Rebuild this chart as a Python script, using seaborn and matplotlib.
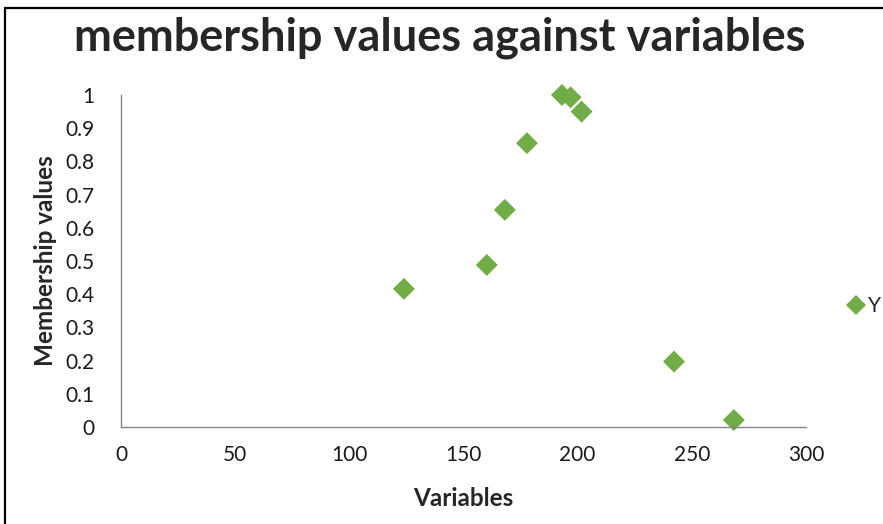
import matplotlib
matplotlib.use("Agg")
import matplotlib.pyplot as plt
from matplotlib.lines import Line2D
import seaborn as sns
import pandas as pd

# data
variables = [123.9, 160.2, 168.1, 177.8, 193.1, 196.9, 201.7, 242.2, 268.4]
membership = [0.416, 0.488, 0.654, 0.855, 1.0, 0.993, 0.950, 0.197, 0.021]
x_ticks = [0, 50, 100, 150, 200, 250, 300]
y_ticks = [0, 0.1, 0.2, 0.3, 0.4, 0.5, 0.6, 0.7, 0.8, 0.9, 1]
y_tick_labels = ["0", "0.1", "0.2", "0.3", "0.4", "0.5", "0.6", "0.7", "0.8", "0.9", "1"]
series_name = "Y"

df = pd.DataFrame({"Variables": variables, "Membership values": membership})

sns.set_theme(style="white")
plt.rcParams["font.family"] = ["Lato", "DejaVu Sans"]

W, H = 883, 524
fig = plt.figure(figsize=(W / 100, H / 100), dpi=100)
ax = fig.add_axes([121 / W, (H - 427) / H, (806 - 121) / W, (427 - 95) / H])

green = "#70AD47"
sns.scatterplot(data=df, x="Variables", y="Membership values", ax=ax,
                marker="D", s=125, color=green, edgecolor="none",
                label=series_name, legend=False, clip_on=False)

ax.set_xlim(0, 300)
ax.set_ylim(0, 1)
ax.set_xticks(x_ticks)
ax.set_xticklabels([str(t) for t in x_ticks])
ax.set_yticks(y_ticks)
ax.set_yticklabels(y_tick_labels)

spine_col = "#868686"
for s in ["top", "right"]:
    ax.spines[s].set_visible(False)
for s in ["left", "bottom"]:
    ax.spines[s].set_color(spine_col)
    ax.spines[s].set_linewidth(1.0)
ax.tick_params(axis="both", which="major", direction="out", length=5,
               width=1, color=spine_col, labelsize=15, labelcolor="#1a1a1a")
ax.tick_params(axis="y", pad=14)
ax.tick_params(axis="x", pad=8)
ax.grid(False)

ax.set_xlabel("Variables", fontsize=17.5, fontweight="bold", labelpad=16)
ax.set_ylabel("Membership values", fontsize=17.5, fontweight="bold", labelpad=6)

fig.text(440 / W, 1 - 38 / H, "membership values against variables",
         ha="center", va="center", fontsize=32.5, fontweight="bold")

handle = Line2D([], [], marker="D", linestyle="none", color=green,
                markersize=10.5, markeredgewidth=0)
fig.legend([handle], [series_name], loc="center left",
           bbox_to_anchor=(843 / W, 1 - 306 / H), frameon=False,
           fontsize=15, handletextpad=0.0, handlelength=1.2, borderpad=0,
           borderaxespad=0)

# outer chart border (left and top visible)
fig.add_artist(Line2D([5 / W, 5 / W], [0, 1 - 8 / H], transform=fig.transFigure,
                      color="black", linewidth=1.6))
fig.add_artist(Line2D([5 / W, 1], [1 - 8 / H, 1 - 8 / H], transform=fig.transFigure,
                      color="black", linewidth=1.6))

fig.savefig("out.png", dpi=100, facecolor="white")
